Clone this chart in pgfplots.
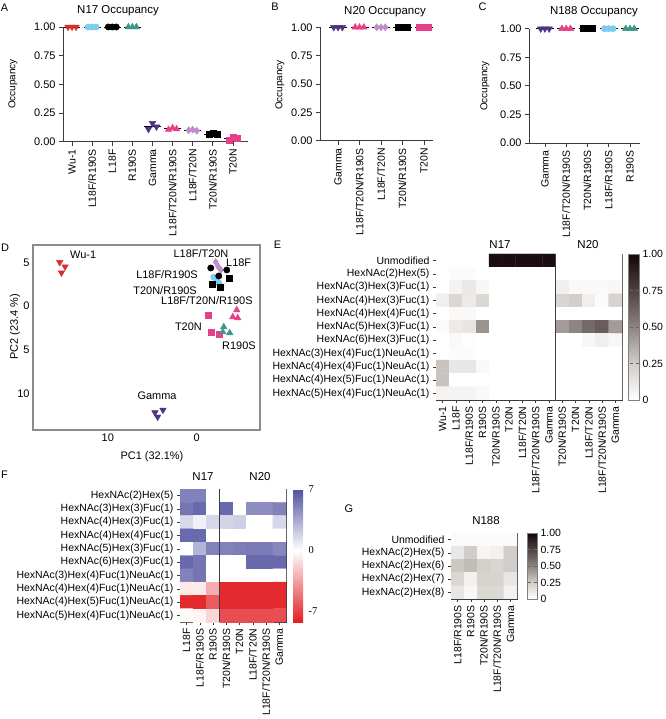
\documentclass[border=0pt]{standalone}
\usepackage{pgfplots}
\pgfplotsset{compat=1.18}
\usepackage{fontspec}
\setmainfont{Liberation Sans}
\newfontfamily\seriffont{Liberation Serif}
\newcommand\fs[1]{\fontsize{#1}{#1}\selectfont}
\definecolor{cRed}{RGB}{214,47,47}
\definecolor{cBlue}{RGB}{125,203,240}
\definecolor{cTeal}{RGB}{63,150,140}
\definecolor{cPurp}{RGB}{80,50,130}
\definecolor{cPink}{RGB}{230,64,140}
\definecolor{cLilac}{RGB}{190,140,200}
\definecolor{axgray}{RGB}{60,60,60}

\pgfplotsset{
  /pgf/number format/assume math mode=true,
  occ/.style={scale only axis, clip=false,
    axis x line*=bottom, axis y line*=left, tick pos=left,
    axis line style={axgray, line width=0.7pt, -},
    ymin=0, ymax=1, ytick={0,0.25,0.5,0.75,1},
    yticklabels={0.00,0.25,0.50,0.75,1.00},
    tick align=outside, major tick length=4bp,
    tick style={axgray, line width=0.7pt},
    yticklabel style={font=\fs{11}},
    xticklabel style={font=\fs{10.5}, rotate=90, anchor=east},
    xtick={0,...,8}},
  ml/.style={black, line width=0.8pt, forget plot},
  mRed/.style={only marks, mark=triangle*, mark size=3.8bp, mark options={rotate=180, fill=cRed, draw=cRed}},
  mPurp/.style={only marks, mark=triangle*, mark size=3.8bp, mark options={rotate=180, fill=cPurp, draw=cPurp}},
  mBlue/.style={only marks, mark=*, mark size=3.2bp, mark options={fill=cBlue, draw=cBlue}},
  mBlack/.style={only marks, mark=*, mark size=3.2bp, mark options={fill=black, draw=black}},
  mTeal/.style={only marks, mark=triangle*, mark size=3.8bp, mark options={fill=cTeal, draw=cTeal}},
  mPinkT/.style={only marks, mark=triangle*, mark size=3.8bp, mark options={fill=cPink, draw=cPink}},
  mLilac/.style={only marks, mark=diamond*, mark size=3.6bp, mark options={fill=cLilac, draw=cLilac}},
  mSq/.style={only marks, mark=square*, mark size=3bp, mark options={fill=black, draw=black}},
  mPinkS/.style={only marks, mark=square*, mark size=3bp, mark options={fill=cPink, draw=cPink}},
  hm/.style={scale only axis, y dir=reverse, enlargelimits=false,
    axis line style={axgray, line width=0.6pt},
    tick align=outside, major tick length=3bp, tick style={axgray, line width=0.5pt},
    tick pos=left,
    tick label style={font=\fs{10.5}},
    xticklabel style={rotate=90, anchor=east, font=\fs{10.5}},
    yticklabel style={font=\fs{10.5}}},
  greybar/.style={scale only axis, anchor=north west,
    ytick={0,0.25,0.5,0.75,1}, yticklabels={0,0.25,0.50,0.75,1.00},
    yticklabel style={font=\fs{10.5}},
    axis line style={black!50, line width=0.5pt},
    tick align=inside, 
    ytick style={black!60, dashed, line width=0.6pt}, ytick pos=right, yticklabel pos=right},
  colormap={greyE}{rgb255(0)=(255,255,255) rgb255(0.25)=(210,205,200) rgb255(0.5)=(142,132,130) rgb255(0.75)=(78,66,66) rgb255(1)=(20,6,8)},
  colormap={bwr}{rgb255(0)=(226,32,36) rgb255(8.2)=(255,255,255) rgb255(15.2)=(80,80,160)},
}

\begin{document}
\begin{tikzpicture}
\useasboundingbox (0,0) rectangle (666bp,719bp);

% ---------------- Panel A ----------------
\begin{axis}[occ, at={(63bp,577.3bp)}, anchor=south west, width=185bp, height=114.7bp,
  xmin=-0.45, xmax=8.75,
  xticklabels={Wu-1,L18F/R190S,L18F,R190S,Gamma,L18F/T20N/R190S,L18F/T20N,T20N/R190S,T20N}]
\addplot[ml] coordinates {(-0.42,1) (0.42,1)};
\addplot[mRed] coordinates {(-0.2,1) (0,1) (0.2,1)};
\addplot[ml] coordinates {(0.58,1) (1.42,1)};
\addplot[mBlue] coordinates {(0.8,1) (1,1) (1.2,1)};
\addplot[ml] coordinates {(1.58,1) (2.42,1)};
\addplot[mBlack] coordinates {(1.8,1) (2,1) (2.2,1)};
\addplot[ml] coordinates {(2.58,1) (3.42,1)};
\addplot[mTeal] coordinates {(2.8,1) (3,1) (3.2,1)};
\addplot[ml] coordinates {(3.58,0.133) (4.42,0.133)};
\addplot[mPurp] coordinates {(3.8,0.11) (4,0.16) (4.2,0.13)};
\addplot[ml] coordinates {(4.58,0.112) (5.42,0.112)};
\addplot[mPinkT] coordinates {(4.8,0.105) (5,0.12) (5.2,0.11)};
\addplot[ml] coordinates {(5.58,0.1) (6.42,0.1)};
\addplot[mLilac] coordinates {(5.8,0.1) (6,0.105) (6.2,0.095)};
\addplot[ml] coordinates {(6.58,0.066) (7.42,0.066)};
\addplot[mSq] coordinates {(6.8,0.065) (7,0.07) (7.2,0.062)};
\addplot[ml] coordinates {(7.58,0.027) (8.42,0.027)};
\addplot[mPinkS] coordinates {(7.8,0.01) (8,0.04) (8.2,0.03)};
\end{axis}

% ---------------- Panel B ----------------
\begin{axis}[occ, at={(320bp,578.3bp)}, anchor=south west, width=113bp, height=113.4bp,
  xmin=-0.84, xmax=4.42, xtick={0,...,4},
  xticklabels={Gamma,L18F/T20N/R190S,L18F/T20N,T20N/R190S,T20N}]
\addplot[ml] coordinates {(-0.42,1) (0.42,1)};
\addplot[mPurp] coordinates {(-0.2,1) (0,1) (0.2,1)};
\addplot[ml] coordinates {(0.58,1) (1.42,1)};
\addplot[mPinkT] coordinates {(0.8,1) (1,1) (1.2,1)};
\addplot[ml] coordinates {(1.58,1) (2.42,1)};
\addplot[mLilac] coordinates {(1.8,1) (2,1) (2.2,1)};
\addplot[ml] coordinates {(2.58,1) (3.42,1)};
\addplot[mSq] coordinates {(2.8,1) (3,1) (3.2,1)};
\addplot[ml] coordinates {(3.58,1) (4.42,1)};
\addplot[mPinkS] coordinates {(3.8,1) (4,1) (4.2,1)};
\end{axis}

% ---------------- Panel C ----------------
\begin{axis}[occ, at={(529bp,576bp)}, anchor=south west, width=111bp, height=114.3bp,
  xmin=-0.75, xmax=4.47, xtick={0,...,4},
  xticklabels={Gamma,L18F/T20N/R190S,T20N/R190S,L18F/R190S,R190S}]
\addplot[ml] coordinates {(-0.42,1) (0.42,1)};
\addplot[mPurp] coordinates {(-0.2,1) (0,1) (0.2,1)};
\addplot[ml] coordinates {(0.58,1) (1.42,1)};
\addplot[mPinkT] coordinates {(0.8,1) (1,1) (1.2,1)};
\addplot[ml] coordinates {(1.58,1) (2.42,1)};
\addplot[mSq] coordinates {(1.8,1) (2,1) (2.2,1)};
\addplot[ml] coordinates {(2.58,1) (3.42,1)};
\addplot[mBlue] coordinates {(2.8,1) (3,1) (3.2,1)};
\addplot[ml] coordinates {(3.58,1) (4.42,1)};
\addplot[mTeal] coordinates {(3.8,1) (4,1) (4.2,1)};
\end{axis}

% ---------------- Panel D (PCA) ----------------
\begin{axis}[scale only axis, at={(33bp,289bp)}, anchor=south west, width=227bp, height=185bp,
  x dir=reverse, y dir=reverse, xmin=-7.1, xmax=18.4, ymin=-6.98, ymax=14.2,
  xtick={0,10}, ytick={-5,0,5,10}, yticklabels={5,0,5,10}, xticklabels={0,10},
  major tick length=0pt, axis line style={black!45, line width=1.3pt},
  tick label style={font=\fs{11}}]
\addplot[mRed] coordinates {(15.4,-5.0) (14.8,-4.5) (15.2,-3.8)};
\addplot[mPurp] coordinates {(4.7,12.2) (3.8,11.9) (4.4,12.7)};
\addplot[mBlue] coordinates {(-2.25,-2.86) (-1.9,-3.3) (-2.5,-2.6)};
\addplot[mLilac] coordinates {(-2.13,-5.03) (-2.7,-4.12) (-2.4,-4.5)};
\addplot[mBlack] coordinates {(-1.57,-4.35) (-3.37,-4.12) (-2.47,-3.43)};
\addplot[mSq] coordinates {(-1.69,-2.5) (-2.58,-2.2) (-3.6,-3.2)};
\addplot[mPinkT] coordinates {(-4.49,0.46) (-4.04,1.26) (-4.6,1.37)};
\addplot[mPinkS] coordinates {(-1.24,1.03) (-1.57,2.97) (-2.47,3.2)};
\addplot[mTeal] coordinates {(-3.03,2.4) (-3.7,3.09) (-2.92,2.97)};
\end{axis}

% ---------------- Panel E (heatmap) ----------------
\begin{axis}[hm, at={(436bp,465bp)}, anchor=north west, width=186bp, height=146bp,
  xmin=-0.5, xmax=13.5, ymin=-0.5, ymax=10.5,
  xtick={0,...,13}, ytick={0,...,10},
  xticklabels={Wu-1,L18F,L18F/R190S,R190S,T20N/R190S,T20N,L18F/T20N,L18F/T20N/R190S,Gamma,T20N/R190S,T20N,L18F/T20N,L18F/T20N/R190S,Gamma},
  yticklabels={Unmodified,HexNAc(2)Hex(5),HexNAc(3)Hex(3)Fuc(1),HexNAc(4)Hex(3)Fuc(1),HexNAc(4)Hex(4)Fuc(1),HexNAc(5)Hex(3)Fuc(1),HexNAc(6)Hex(3)Fuc(1),HexNAc(3)Hex(4)Fuc(1)NeuAc(1),HexNAc(4)Hex(4)Fuc(1)NeuAc(1),HexNAc(4)Hex(5)Fuc(1)NeuAc(1),HexNAc(5)Hex(4)Fuc(1)NeuAc(1)},
  colormap name=greyE, point meta min=0, point meta max=1,
  colorbar, colorbar style={greybar, at={(628bp,465bp)}, xshift=-8.5bp, width=11bp, height=146bp, major tick length=11bp}]
\addplot[matrix plot*, mesh/cols=14, point meta=explicit] coordinates {
(0,0)[0] (1,0)[0] (2,0)[0] (3,0)[0] (4,0)[.97] (5,0)[.97] (6,0)[.97] (7,0)[.97] (8,0)[.97] (9,0)[0] (10,0)[0] (11,0)[0] (12,0)[0] (13,0)[0]
(0,1)[0] (1,1)[.02] (2,1)[.02] (3,1)[0] (4,1)[0] (5,1)[0] (6,1)[0] (7,1)[0] (8,1)[0] (9,1)[0] (10,1)[0] (11,1)[0] (12,1)[0] (13,1)[0]
(0,2)[0] (1,2)[.06] (2,2)[.11] (3,2)[.04] (4,2)[0] (5,2)[0] (6,2)[0] (7,2)[0] (8,2)[0] (9,2)[.08] (10,2)[.03] (11,2)[.03] (12,2)[.03] (13,2)[.04]
(0,3)[.08] (1,3)[.20] (2,3)[.10] (3,3)[.20] (4,3)[0] (5,3)[0] (6,3)[0] (7,3)[0] (8,3)[0] (9,3)[.21] (10,3)[.24] (11,3)[.08] (12,3)[.02] (13,3)[.22]
(0,4)[0] (1,4)[.03] (2,4)[.03] (3,4)[0] (4,4)[0] (5,4)[0] (6,4)[0] (7,4)[0] (8,4)[0] (9,4)[0] (10,4)[0] (11,4)[0] (12,4)[0] (13,4)[0]
(0,5)[.02] (1,5)[.10] (2,5)[.13] (3,5)[.45] (4,5)[0] (5,5)[0] (6,5)[0] (7,5)[0] (8,5)[0] (9,5)[.42] (10,5)[.50] (11,5)[.60] (12,5)[.65] (13,5)[.42]
(0,6)[0] (1,6)[.03] (2,6)[.01] (3,6)[0] (4,6)[0] (5,6)[0] (6,6)[0] (7,6)[0] (8,6)[0] (9,6)[0] (10,6)[0] (11,6)[.04] (12,6)[.08] (13,6)[.04]
(0,7)[0] (1,7)[.02] (2,7)[.02] (3,7)[0] (4,7)[0] (5,7)[0] (6,7)[0] (7,7)[0] (8,7)[0] (9,7)[0] (10,7)[0] (11,7)[0] (12,7)[0] (13,7)[0]
(0,8)[.28] (1,8)[.12] (2,8)[.12] (3,8)[.03] (4,8)[0] (5,8)[0] (6,8)[0] (7,8)[0] (8,8)[0] (9,8)[0] (10,8)[0] (11,8)[0] (12,8)[0] (13,8)[0]
(0,9)[.28] (1,9)[0] (2,9)[0] (3,9)[0] (4,9)[0] (5,9)[0] (6,9)[0] (7,9)[0] (8,9)[0] (9,9)[0] (10,9)[0] (11,9)[0] (12,9)[0] (13,9)[0]
(0,10)[.06] (1,10)[.06] (2,10)[.06] (3,10)[.03] (4,10)[0] (5,10)[0] (6,10)[0] (7,10)[0] (8,10)[0] (9,10)[0] (10,10)[0] (11,10)[0] (12,10)[0] (13,10)[0]
};
\addplot[axgray, line width=0.6pt] coordinates {(8.5,-0.5) (8.5,10.5)};
\end{axis}

% ---------------- Panel F (heatmap) ----------------
\begin{axis}[hm, at={(180bp,230bp)}, anchor=north west, width=106bp, height=133bp,
  xmin=-0.5, xmax=7.5, ymin=-0.5, ymax=9.5,
  xtick={0,...,7}, ytick={0,...,9},
  xticklabels={L18F,L18F/R190S,R190S,T20N/R190S,T20N,L18F/T20N,L18F/T20N/R190S,Gamma},
  yticklabels={HexNAc(2)Hex(5),HexNAc(3)Hex(3)Fuc(1),HexNAc(4)Hex(3)Fuc(1),HexNAc(4)Hex(4)Fuc(1),HexNAc(5)Hex(3)Fuc(1),HexNAc(6)Hex(3)Fuc(1),HexNAc(3)Hex(4)Fuc(1)NeuAc(1),HexNAc(4)Hex(4)Fuc(1)NeuAc(1),HexNAc(4)Hex(5)Fuc(1)NeuAc(1),HexNAc(5)Hex(4)Fuc(1)NeuAc(1)},
  colormap name=bwr, point meta min=-8.2, point meta max=7,
  colorbar, colorbar style={scale only axis, at={(293bp,230bp)}, xshift=-8.5bp, anchor=north west,
    width=10bp, height=133bp,
    ytick={-7,0,7}, yticklabels={-7,0,7},
    yticklabel style={font=\seriffont\fs{10.5}, xshift=2bp},
    axis line style={draw=none}, major tick length=0pt, ytick pos=right, yticklabel pos=right}]
\addplot[matrix plot*, mesh/cols=8, point meta=explicit] coordinates {
(0,0)[5] (1,0)[5] (2,0)[0] (3,0)[0] (4,0)[0] (5,0)[0] (6,0)[0] (7,0)[0]
(0,1)[5.5] (1,1)[6] (2,1)[0] (3,1)[6] (4,1)[0] (5,1)[4.5] (6,1)[4.5] (7,1)[5]
(0,2)[1.5] (1,2)[0.6] (2,2)[1.6] (3,2)[1.7] (4,2)[1.9] (5,2)[0] (6,2)[0] (7,2)[1.6]
(0,3)[6] (1,3)[6] (2,3)[0] (3,3)[0] (4,3)[0] (5,3)[0] (6,3)[0] (7,3)[0]
(0,4)[0] (1,4)[3] (2,4)[5] (3,4)[5] (4,4)[5.2] (5,4)[5.3] (6,4)[5.3] (7,4)[4.8]
(0,5)[6] (1,5)[5.5] (2,5)[0] (3,5)[0] (4,5)[0] (5,5)[6] (6,5)[6] (7,5)[6]
(0,6)[5] (1,6)[5.5] (2,6)[0] (3,6)[0] (4,6)[0] (5,6)[0] (6,6)[0] (7,6)[0]
(0,7)[-0.8] (1,7)[-0.8] (2,7)[-3] (3,7)[-7.8] (4,7)[-7.8] (5,7)[-7.8] (6,7)[-7.8] (7,7)[-7.8]
(0,8)[-7.8] (1,8)[-7.8] (2,8)[-6] (3,8)[-7.8] (4,8)[-7.8] (5,8)[-7.8] (6,8)[-7.8] (7,8)[-7.8]
(0,9)[-0.2] (1,9)[-0.4] (2,9)[-1.5] (3,9)[-6.5] (4,9)[-6.5] (5,9)[-6.5] (6,9)[-6.5] (7,9)[-6.5]
};
\addplot[axgray, line width=0.6pt] coordinates {(2.5,-0.5) (2.5,9.5)};
\end{axis}

% ---------------- Panel G (heatmap) ----------------
\begin{axis}[hm, at={(451bp,186bp)}, anchor=north west, width=66bp, height=66bp,
  xmin=-0.5, xmax=4.5, ymin=-0.5, ymax=4.5,
  xtick={0,...,4}, ytick={0,...,4},
  xticklabels={L18F/R190S,R190S,T20N/R190S,L18F/T20N/R190S,Gamma},
  yticklabels={Unmodified,HexNAc(2)Hex(5),HexNAc(2)Hex(6),HexNAc(2)Hex(7),HexNAc(2)Hex(8)},
  colormap name=greyE, point meta min=0, point meta max=1,
  colorbar, colorbar style={greybar, at={(527bp,186bp)}, xshift=-8.5bp, width=10bp, height=66bp, major tick length=10bp}]
\addplot[matrix plot*, mesh/cols=5, point meta=explicit] coordinates {
(0,0)[.02] (1,0)[.02] (2,0)[.02] (3,0)[.02] (4,0)[.02]
(0,1)[.12] (1,1)[.25] (2,1)[.05] (3,1)[.07] (4,1)[.25]
(0,2)[.27] (1,2)[.31] (2,2)[.24] (3,2)[.21] (4,2)[.25]
(0,3)[.2] (1,3)[.07] (2,3)[.22] (3,3)[.22] (4,3)[.12]
(0,4)[.13] (1,4)[.04] (2,4)[.2] (3,4)[.2] (4,4)[.07]
};
\end{axis}

% ---------------- Text ----------------
\begin{scope}[every node/.style={font=\fs{11}, inner sep=0pt}]
\node at (4.5bp,711.5bp) {A};
\node at (275bp,712bp) {B};
\node at (482.5bp,712bp) {C};
\node at (5bp,471.5bp) {D};
\node at (277.5bp,474bp) {E};
\node at (4.5bp,244bp) {F};
\node at (349bp,210.5bp) {G};
\node[font=\fs{11.5}] at (118bp,708bp) {N17 Occupancy};
\node[font=\fs{11.5}] at (385bp,707bp) {N20 Occupancy};
\node[font=\fs{11.5}] at (594bp,707bp) {N188 Occupancy};
\node[rotate=90, font=\fs{10}] at (13bp,635bp) {Occupancy};
\node[rotate=90, font=\fs{10}] at (280bp,634bp) {Occupancy};
\node[rotate=90, font=\fs{10}] at (485bp,633bp) {Occupancy};
\node[font=\fs{11.5}] at (500bp,474bp) {N17};
\node[font=\fs{11.5}] at (588bp,474bp) {N20};
\node[font=\fs{11.5}] at (203bp,242bp) {N17};
\node[font=\fs{11.5}] at (260bp,242bp) {N20};
\node[font=\fs{11.5}] at (486bp,198bp) {N188};
\node at (152bp,262bp) {PC1 (32.1\%)};
\node[rotate=90] at (15bp,392bp) {PC2 (23.4 \%)};
\node[anchor=west] at (70bp,464bp) {Wu-1};
\node at (201bp,465bp) {L18F/T20N};
\node[anchor=west] at (226bp,456bp) {L18F};
\node[anchor=east] at (198bp,444bp) {L18F/R190S};
\node[anchor=east] at (197bp,428bp) {T20N/R190S};
\node[anchor=west] at (161bp,418bp) {L18F/T20N/R190S};
\node[anchor=east] at (202bp,392bp) {T20N};
\node[anchor=west] at (222bp,373bp) {R190S};
\node at (157bp,323bp) {Gamma};
\end{scope}
\end{tikzpicture}
\end{document}
